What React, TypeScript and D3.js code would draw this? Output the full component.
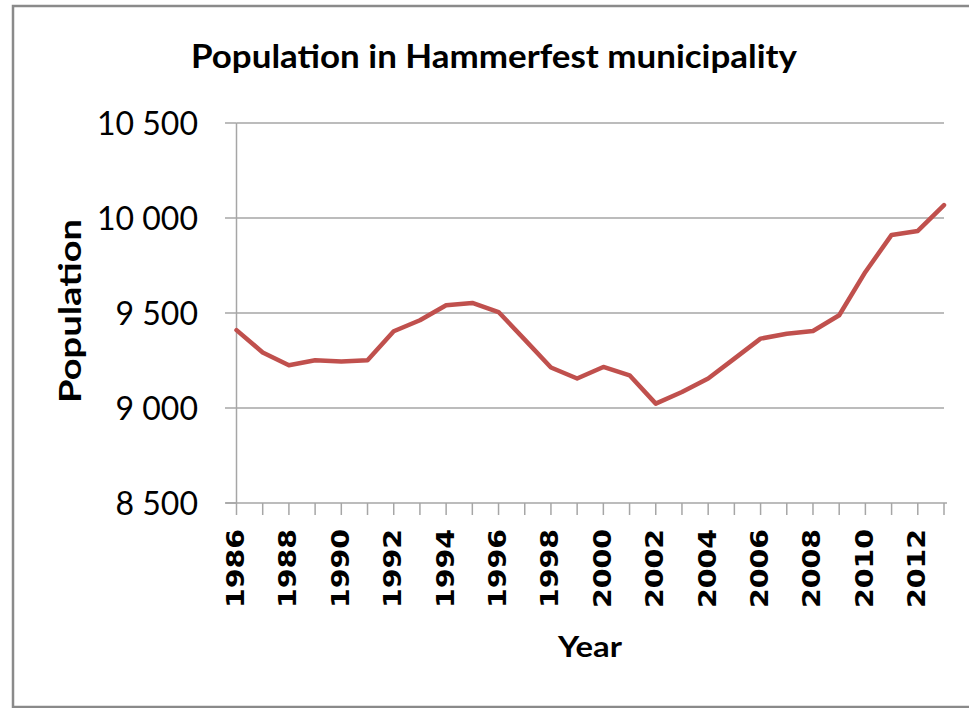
import React from "react";
import * as d3 from "d3";

const years: number[] = [
  1986, 1987, 1988, 1989, 1990, 1991, 1992, 1993, 1994, 1995, 1996, 1997, 1998, 1999,
  2000, 2001, 2002, 2003, 2004, 2005, 2006, 2007, 2008, 2009, 2010, 2011, 2012, 2013,
];
const population: number[] = [
  9410, 9292, 9225, 9251, 9245, 9251, 9404, 9462, 9541, 9553, 9505, 9360, 9213, 9155,
  9216, 9172, 9023, 9084, 9155, 9260, 9365, 9391, 9405, 9488, 9716, 9911, 9932, 10068,
];
const yTicks: number[] = [8500, 9000, 9500, 10000, 10500];
const xLabelYears: number[] = [1986, 1988, 1990, 1992, 1994, 1996, 1998, 2000, 2002, 2004, 2006, 2008, 2010, 2012];
const title = "Population in Hammerfest municipality";
const yTitle = "Population";
const xTitle = "Year";

const W = 969;
const H = 708;
const left = 236.5;
const right = 944;
const top = 123;
const bottom = 503;

const fmt = (v: number) => {
  const s = String(v);
  return s.length > 3 ? s.slice(0, s.length - 3) + " " + s.slice(s.length - 3) : s;
};

export default function App() {
  const x = d3.scaleLinear().domain([1986, 2013]).range([left, right]);
  const y = d3.scaleLinear().domain([8500, 10500]).range([bottom, top]);
  const line = d3
    .line<number>()
    .x((_, i) => x(years[i]))
    .y((d) => y(d));
  const grid = "#a6a6a6";
  return (
    <svg
      width={W}
      height={H}
      style={{ position: "absolute", left: 0, top: 0, background: "#fff" }}
    >
      <rect x={13} y={6} width={980} height={701} fill="#fff" stroke="#8a8a8a" strokeWidth={2.5} />
      <text
        x={494}
        y={67.5}
        textAnchor="middle"
        fontFamily="Lato, 'Open Sans', sans-serif"
        fontWeight="bold"
        fontSize={33}
        textLength={606}
        lengthAdjust="spacingAndGlyphs"
        fill="#000"
      >
        {title}
      </text>
      {yTicks.map((t) => (
        <g key={t}>
          {t !== 8500 && (
            <line x1={left} x2={right} y1={y(t)} y2={y(t)} stroke={grid} strokeWidth={1.5} />
          )}
          <line x1={225} x2={left} y1={y(t)} y2={y(t)} stroke={grid} strokeWidth={1.5} />
          <text
            x={198}
            y={y(t)}
            dy="0.36em"
            textAnchor="end"
            fontFamily="Lato, 'Open Sans', sans-serif"
            fontSize={32}
            fill="#000"
          >
            {fmt(t)}
          </text>
        </g>
      ))}
      <line x1={left} x2={left} y1={top} y2={bottom} stroke={grid} strokeWidth={1.5} />
      <line x1={left - 11} x2={right + 3} y1={bottom} y2={bottom} stroke={grid} strokeWidth={1.5} />
      {years.map((yr) => (
        <line key={yr} x1={x(yr)} x2={x(yr)} y1={bottom} y2={515} stroke={grid} strokeWidth={1.5} />
      ))}
      {xLabelYears.map((yr) => (
        <text
          key={yr}
          transform={`translate(${x(yr) + 7.5},529) rotate(-90)`}
          textAnchor="end"
          fontFamily="'DejaVu Sans', Verdana, sans-serif"
          fontWeight="bold"
          fontSize={24}
          textLength={79}
          lengthAdjust="spacingAndGlyphs"
          fill="#000"
        >
          {yr}
        </text>
      ))}
      <text
        transform={`translate(81,311) rotate(-90)`}
        textAnchor="middle"
        fontFamily="Lato, 'Open Sans', sans-serif"
        fontWeight="bold"
        fontSize={30}
        textLength={184}
        lengthAdjust="spacingAndGlyphs"
        fill="#000"
      >
        {yTitle}
      </text>
      <text
        x={590}
        y={657}
        textAnchor="middle"
        fontFamily="Lato, 'Open Sans', sans-serif"
        fontWeight="bold"
        fontSize={28}
        textLength={64}
        lengthAdjust="spacingAndGlyphs"
        fill="#000"
      >
        {xTitle}
      </text>
      <path
        d={line(population) || ""}
        fill="none"
        stroke="#c0504d"
        strokeWidth={4.5}
        strokeLinejoin="round"
        strokeLinecap="round"
      />
    </svg>
  );
}
